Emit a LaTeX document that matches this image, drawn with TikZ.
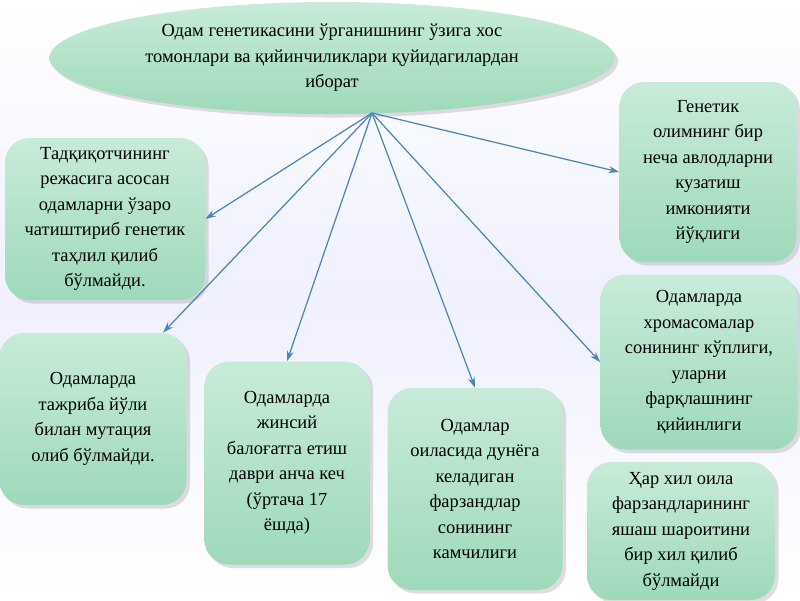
\documentclass[tikz,border=0pt]{standalone}
\usepackage{fontspec}
\setmainfont{Liberation Serif}
\usetikzlibrary{shapes.geometric,shadows,arrows.meta}
\definecolor{boxtop}{HTML}{C8EBD8}
\definecolor{boxbot}{HTML}{9ED9BA}
\definecolor{arr}{HTML}{4A86B8}
\begin{document}
\begin{tikzpicture}[x=0.02cm,y=-0.02cm,
  box/.style={rounded corners=14pt,top color=boxtop,bottom color=boxbot,draw=none,
    drop shadow={opacity=0.25,shadow xshift=2pt,shadow yshift=-2pt},
    align=center,font=\fontsize{10.5}{14.5}\selectfont,inner sep=2pt},
  conn/.style={draw=arr,line width=0.7pt,-{Stealth[length=6pt,width=4pt]}}]
\shade[top color=white,bottom color=white,middle color=blue!6] (0,0) rectangle (800,600);
\useasboundingbox (0,0) rectangle (800,600);
\node[ellipse,top color=boxtop,bottom color=boxbot,draw=none,minimum width=565*0.02cm,minimum height=110*0.02cm,
  drop shadow={opacity=0.25,shadow xshift=2pt,shadow yshift=-2pt},align=center,font=\fontsize{10.5}{14.5}\selectfont]
  (top) at (332,58) {Одам генетикасини ўрганишнинг ўзига хос\\томонлари ва қийинчиликлари қуйидагилардан\\иборат};
\coordinate (hub) at (372,113);
\node[box,minimum width=200*0.02cm,minimum height=162*0.02cm] (b1) at (105,219) {Тадқиқотчининг\\режасига асосан\\одамларни ўзаро\\чатиштириб генетик\\таҳлил қилиб\\бўлмайди.};
\node[box,minimum width=177*0.02cm,minimum height=180*0.02cm] (b2) at (708,172) {Генетик\\олимнинг бир\\неча авлодларни\\кузатиш\\имконияти\\йўқлиги};
\node[box,minimum width=187*0.02cm,minimum height=172*0.02cm] (b3) at (93,419) {Одамларда\\тажриба йўли\\билан мутация\\олиб бўлмайди.};
\node[box,minimum width=165*0.02cm,minimum height=203*0.02cm] (b4) at (287,463) {Одамларда\\жинсий\\балоғатга етиш\\даври анча кеч\\(ўртача 17\\ёшда)};
\node[box,minimum width=175*0.02cm,minimum height=202*0.02cm] (b5) at (475,489) {Одамлар\\оиласида дунёга\\келадиган\\фарзандлар\\сонининг\\камчилиги};
\node[box,minimum width=197*0.02cm,minimum height=175*0.02cm] (b6) at (699,362) {Одамларда\\хромасомалар\\сонининг кўплиги,\\уларни\\фарқлашнинг\\қийинлиги};
\node[box,minimum width=188*0.02cm,minimum height=138*0.02cm] (b7) at (681,531) {Ҳар хил оила\\фарзандларининг\\яшаш шароитини\\бир хил қилиб\\бўлмайди};
\draw[conn] (hub) -- (b1.east);
\draw[conn] (hub) -- (b2.west);
\draw[conn] (hub) -- ([xshift=70*0.02cm]b3.north);
\draw[conn] (hub) -- (b4.north);
\draw[conn] (hub) -- (b5.north);
\draw[conn] (hub) -- (b6.west);
\end{tikzpicture}
\end{document}
